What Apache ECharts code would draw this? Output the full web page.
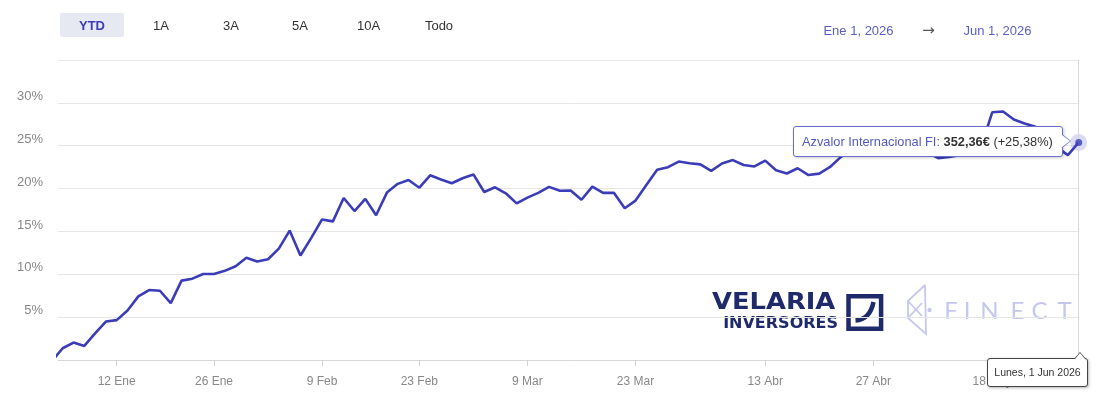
<!DOCTYPE html>
<html><head><meta charset="utf-8">
<script src="https://cdn.jsdelivr.net/npm/echarts@6/dist/echarts.min.js"></script>
<style>html,body{margin:0;padding:0;background:#fff}#c{width:1099px;height:407px}</style>
</head><body><div id="c"></div>
<script>
// ---------- data ----------
// YTD return (%) per trading session; first value is the session just before the visible window
const firstIndex = -1;
const returnsPct = [
  -0.15,
  1.37, 2.03, 1.64, 3.10, 4.49, 4.65, 5.78, 7.42, 8.16, 8.08,
  6.64, 9.26, 9.49, 10.04, 10.04, 10.40, 10.94, 11.92, 11.48, 11.76,
  13.00, 15.10, 12.19, 14.25, 16.40, 16.17, 18.90, 17.38, 18.80, 16.88,
  19.53, 20.55, 21.00, 20.10, 21.55, 21.05, 20.62, 21.20, 21.65, 19.60,
  20.15, 19.45, 18.27, 18.95, 19.50, 20.20, 19.75, 19.78, 18.70, 20.23,
  19.50, 19.50, 17.70, 18.60, 20.42, 22.20, 22.50, 23.15, 22.95, 22.82,
  22.07, 22.93, 23.32, 22.75, 22.58, 23.26, 22.13, 21.76, 22.37, 21.58,
  21.74, 22.52, 23.70, 24.50, 24.80, 25.20, 25.00, 25.50, 25.10, 24.60,
  24.20, 23.55, 23.70, 23.90, 24.40, 25.00, 28.90, 29.00, 28.05, 27.60,
  27.20, 26.00, 24.80, 23.90, 25.38
];
const tickIndex  = [5, 14, 24, 33, 43, 53, 65, 75, 86];
const tickLabels = ['12 Ene', '26 Ene', '9 Feb', '23 Feb', '9 Mar', '23 Mar', '13 Abr', '27 Abr', '18 May'];
const yTickValues = [0, 5, 10, 15, 20, 25, 30, 35];
const fundName = 'Azvalor Internacional FI';
const lastNav = 352.36;
const lastDateLabel = 'Lunes, 1 Jun 2026';
const rangeButtons = ['YTD', '1A', '3A', '5A', '10A', 'Todo'];
const rangeStart = 'Ene 1, 2026';
const rangeEnd = 'Jun 1, 2026';
const finectLetters = ['F', 'I', 'N', 'E', 'C', 'T'];

// ---------- chart ----------
const FONT = '"Liberation Sans", Arial, sans-serif';
const BLUE = '#3b3cb8';
const NAVY = '#1e2a6a';
const LAV = '#c6c7ef';
const chart = echarts.init(document.getElementById('c'));
const lastIndex = firstIndex + returnsPct.length - 1;
const lastPct = returnsPct[returnsPct.length - 1];
const lineData = returnsPct.map((v, k) => [firstIndex + k, v]);
const fmt = v => v.toFixed(2).replace('.', ',');

const buttonCenters = [92, 161, 231, 300, 368.5, 439];
const finectCenters = [951, 967, 989.5, 1017.5, 1039.5, 1064.5];
const graphics = [
  { type: 'rect', shape: { x: 60, y: 13, width: 64, height: 24, r: 2 }, style: { fill: '#e6e8f2' } }
];
rangeButtons.forEach((t, i) => {
  graphics.push({ type: 'text', x: buttonCenters[i], y: 26,
    style: { text: t, align: 'center', verticalAlign: 'middle',
      font: (i === 0 ? 'bold ' : '') + '13px ' + FONT, fill: i === 0 ? BLUE : '#333' } });
});
graphics.push(
  { type: 'text', x: 858.5, y: 31, style: { text: rangeStart, align: 'center', verticalAlign: 'middle', font: '13px ' + FONT, fill: '#5a5ec8' } },
  { type: 'text', x: 928.5, y: 31, style: { text: '\u2192', align: 'center', verticalAlign: 'middle', font: '15px "DejaVu Sans", sans-serif', fill: '#555' } },
  { type: 'text', x: 997.5, y: 31, style: { text: rangeEnd, align: 'center', verticalAlign: 'middle', font: '13px ' + FONT, fill: '#5a5ec8' } },
  // VELARIA INVERSORES logo
  { type: 'text', x: 712, y: 303.5, scaleX: 1.12, style: { text: 'VELARIA', align: 'left', verticalAlign: 'middle', font: 'bold 23px "DejaVu Sans", sans-serif', fill: NAVY } },
  { type: 'text', x: 838, y: 324, style: { text: 'INVERSORES', align: 'right', verticalAlign: 'middle', font: 'bold 16px "DejaVu Sans", sans-serif', fill: NAVY } },
  { type: 'rect', shape: { x: 848.5, y: 296.2, width: 32.6, height: 32.6 }, style: { fill: 'none', stroke: NAVY, lineWidth: 4.5 } },
  { type: 'bezierCurve', shape: { x1: 855.5, y1: 320.5, cpx1: 870, cpy1: 319.5, x2: 873.5, y2: 302 }, style: { fill: 'none', stroke: NAVY, lineWidth: 4.5 } },
  // FINECT logo
  { type: 'polyline', shape: { points: [[925, 285], [908, 301], [908, 318], [926, 334], [925, 285]] }, style: { fill: 'none', stroke: LAV, lineWidth: 1.8 } },
  { type: 'line', shape: { x1: 908, y1: 301, x2: 922, y2: 316 }, style: { stroke: LAV, lineWidth: 1.8 } },
  { type: 'line', shape: { x1: 908, y1: 318, x2: 922, y2: 303 }, style: { stroke: LAV, lineWidth: 1.8 } },
  { type: 'circle', shape: { cx: 929.5, cy: 310, r: 2.2 }, style: { fill: LAV } }
);
finectLetters.forEach((t, i) => {
  graphics.push({ type: 'text', x: finectCenters[i], y: 311,
    style: { text: t, align: 'center', verticalAlign: 'middle', font: '400 24px Lato, "Noto Sans", sans-serif', fill: LAV } });
});

function tipHtml() {
  const p = chart.convertToPixel({ gridIndex: 0 }, [lastIndex, lastPct]);
  const axisY = chart.convertToPixel({ gridIndex: 0 }, [lastIndex, 0])[1];
  const rootTop = p[1] - 16;
  const dateTop = axisY - 2 - rootTop;
  const ff = FONT.replace(/"/g, "'");
  return '<div style="position:relative;box-sizing:border-box;width:270px;height:31px;padding:0 0 0 8px;background:#fff;border:1px solid #6a6dd0;border-radius:3px;box-shadow:1px 1px 3px rgba(0,0,0,0.2);font-family:' + ff + ';font-size:12.8px;line-height:29px;color:#333;white-space:nowrap;">'
    + '<span style="color:#5459c2">' + fundName + ':</span> <b>' + fmt(lastNav) + '\u20ac</b> (+' + fmt(lastPct) + '%)'
    + '<span style="position:absolute;right:-9px;top:7px;width:0;height:0;border-top:7px solid transparent;border-bottom:7px solid transparent;border-left:9px solid #6a6dd0;"></span>'
    + '<span style="position:absolute;right:-7.5px;top:8px;width:0;height:0;border-top:6px solid transparent;border-bottom:6px solid transparent;border-left:8px solid #fff;"></span>'
    + '</div>'
    + '<div style="position:absolute;left:194px;top:' + dateTop + 'px;box-sizing:border-box;width:101px;height:29px;background:#fff;border:1px solid #444;border-radius:3px;box-shadow:1px 1px 3px rgba(0,0,0,0.3);font-family:' + ff + ';font-size:10.5px;line-height:27px;text-align:center;color:#333;white-space:nowrap;">'
    + lastDateLabel
    + '<span style="position:absolute;left:86px;top:-7px;width:0;height:0;border-left:6px solid transparent;border-right:6px solid transparent;border-bottom:7px solid #444;"></span>'
    + '<span style="position:absolute;left:87px;top:-5.5px;width:0;height:0;border-left:5px solid transparent;border-right:5px solid transparent;border-bottom:6px solid #fff;"></span>'
    + '</div>';
}

chart.setOption({
  animation: false,
  textStyle: { fontFamily: FONT },
  grid: { left: 58, right: 20.3, top: 60, bottom: 47, containLabel: false },
  xAxis: {
    type: 'value', min: -0.431, max: lastIndex,
    axisLine: { show: true, lineStyle: { color: '#d8d8d8' } },
    axisTick: { show: true, customValues: tickIndex, length: 6, lineStyle: { color: '#d0d0d0' } },
    axisLabel: { show: true, customValues: tickIndex, color: '#888', fontSize: 12, margin: 16,
      formatter: v => { const k = tickIndex.indexOf(Math.round(v)); return k >= 0 ? tickLabels[k] : ''; } },
    splitLine: { show: false }
  },
  yAxis: {
    type: 'value', min: yTickValues[0], max: yTickValues[yTickValues.length - 1], interval: 5,
    axisLine: { show: false }, axisTick: { show: false },
    axisLabel: { color: '#888', fontSize: 13, margin: 15, verticalAlign: 'bottom',
      formatter: v => (v === yTickValues[0] || v === yTickValues[yTickValues.length - 1]) ? '' : v + '%' },
    splitLine: { lineStyle: { color: '#e6e6e6', width: 1 } }
  },
  tooltip: {
    trigger: 'item', triggerOn: 'none', alwaysShowContent: true, transitionDuration: 0,
    padding: 0, backgroundColor: 'transparent', borderWidth: 0, shadowBlur: 0, shadowColor: 'transparent',
    extraCssText: 'box-shadow:none;',
    position: point => [point[0] - 286, point[1] - 16],
    formatter: () => tipHtml()
  },
  graphic: graphics,
  series: [
    {
      type: 'line', data: lineData, showSymbol: false, symbol: 'none', clip: true, silent: true,
      lineStyle: { color: BLUE, width: 2.6 }, itemStyle: { color: BLUE }, z: 3,
      tooltip: { show: false },
      markLine: { silent: true, symbol: ['none', 'none'], label: { show: false },
        lineStyle: { color: '#d8d8d8', width: 1, type: 'solid' }, data: [{ xAxis: lastIndex }] }
    },
    {
      type: 'scatter', data: [[lastIndex, lastPct]], symbolSize: 17, clip: false, silent: true,
      itemStyle: { color: 'rgba(75,75,200,0.25)' }, z: 4, tooltip: { show: false }
    },
    {
      type: 'scatter', data: [[lastIndex, lastPct]], symbolSize: 7, clip: false,
      itemStyle: { color: BLUE }, z: 5
    }
  ]
});
chart.dispatchAction({ type: 'showTip', seriesIndex: 2, dataIndex: 0 });
</script>
</body></html>
